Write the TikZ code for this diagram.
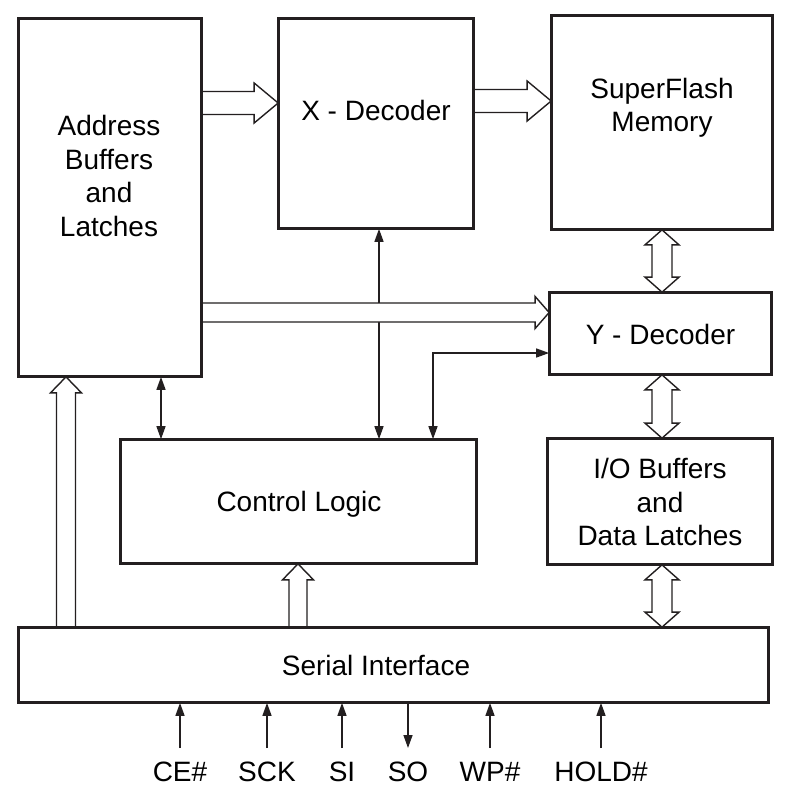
\documentclass[tikz,border=0pt]{standalone}
\usepackage{fontspec}
\setmainfont{Liberation Sans}
\usetikzlibrary{arrows.meta,calc}
\definecolor{lc}{RGB}{35,31,32}
% horizontal hollow arrow: start, tip, shaft half width, head half width, head length
\newcommand\hollowR[5]{\draw[hollow] let \p1=(#1), \p2=(#2) in
  (\x1,\y1+#3pt) -- (\x2-#5pt,\y1+#3pt) -- (\x2-#5pt,\y1+#4pt) -- (\x2,\y1)
  -- (\x2-#5pt,\y1-#4pt) -- (\x2-#5pt,\y1-#3pt) -- (\x1,\y1-#3pt) -- cycle;}
% vertical hollow arrow pointing up: start (lower), tip (upper)
\newcommand\hollowU[5]{\draw[hollow] let \p1=(#1), \p2=(#2) in
  (\x1-#3pt,\y1) -- (\x1-#3pt,\y2-#5pt) -- (\x1-#4pt,\y2-#5pt) -- (\x1,\y2)
  -- (\x1+#4pt,\y2-#5pt) -- (\x1+#3pt,\y2-#5pt) -- (\x1+#3pt,\y1) -- cycle;}
% vertical double hollow arrow: upper tip, lower tip
\newcommand\hollowUD[5]{\draw[hollow] let \p1=(#1), \p2=(#2) in
  (\x1,\y1) -- (\x1+#4pt,\y1-#5pt) -- (\x1+#3pt,\y1-#5pt) -- (\x1+#3pt,\y2+#5pt)
  -- (\x1+#4pt,\y2+#5pt) -- (\x1,\y2) -- (\x1-#4pt,\y2+#5pt) -- (\x1-#3pt,\y2+#5pt)
  -- (\x1-#3pt,\y1-#5pt) -- (\x1-#4pt,\y1-#5pt) -- cycle;}
\begin{document}
\begin{tikzpicture}[x=1pt,y=-1pt,
  box/.style={draw=lc,line width=1.7pt,inner sep=0pt,fill=none},
  lbl/.style={align=center,font=\fontsize{28}{33.5}\selectfont,inner sep=0pt,text=black},
  pinlbl/.style={font=\fontsize{28}{33.5}\selectfont,inner sep=0pt,anchor=base,text=black},
  hollow/.style={draw=lc,line width=1.4pt,fill=white,line join=miter},
  tip/.tip={Triangle[length=13pt,width=9pt]},
  thinarrow/.style={draw=lc,line width=1.4pt,tip-tip},
  pinarrow/.style={draw=lc,line width=1.4pt,-tip}
]
\useasboundingbox (0,0) rectangle (791,807);
\fill[white] (0,0) rectangle (791,807);

% boxes (paths only, for names)
\path node[box,minimum width=182pt,minimum height=357pt] (addr) at (110,197.5) {}
      node[box,minimum width=194pt,minimum height=209pt] (xdec) at (376,123.5) {}
      node[box,minimum width=220pt,minimum height=213pt] (mem) at (662,122.5) {}
      node[box,minimum width=221pt,minimum height=81pt] (ydec) at (660.5,333.5) {}
      node[box,minimum width=355pt,minimum height=123pt] (ctrl) at (298.5,501.5) {}
      node[box,minimum width=224pt,minimum height=125pt] (io) at (660,501.5) {}
      node[box,minimum width=749pt,minimum height=74pt] (serial) at (393.5,665) {};

% thin connectors
\draw[thinarrow] (161,0 |- addr.south) -- (161,0 |- ctrl.north);
\draw[thinarrow] (379,0 |- xdec.south) -- (379,0 |- ctrl.north);
\draw[thinarrow] (433,0 |- ctrl.north) |- (ydec.west |- 0,353);

% hollow arrows
\hollowR{addr.east |- 0,103}{xdec.west |- 0,103}{11.5}{20}{24}
\hollowR{xdec.east |- 0,101}{mem.west |- 0,101}{11.5}{20}{24}
\hollowR{addr.east |- 0,312.5}{ydec.west |- 0,312.5}{9.5}{16}{14}
\hollowU{serial.north -| 66,0}{addr.south -| 66,0}{9.5}{15.5}{16}
\hollowU{serial.north -| 298,0}{ctrl.south -| 298,0}{9}{15.5}{16}
\hollowUD{mem.south -| 662,0}{ydec.north -| 662,0}{10}{17}{15}
\hollowUD{ydec.south -| 662,0}{io.north -| 662,0}{10}{17}{15}
\hollowUD{io.south -| 662,0}{serial.north -| 662,0}{10}{17}{15}

% redraw box outlines on top
\foreach \n in {addr,xdec,mem,ydec,ctrl,io,serial}
  \draw[draw=lc,line width=1.7pt] (\n.north west) rectangle (\n.south east);

% labels
\node[lbl] (addrT) at (109,176) {Address\\Buffers\\and\\Latches};
\node[lbl] (xdecT) at (376,110) {X - Decoder};
\node[lbl] (memT) at (662,108) {SuperFlash\\Memory};
\node[lbl] (ydecT) at (660.5,334) {Y - Decoder};
\node[lbl] (ctrlT) at (299,504) {Control Logic};
\node[lbl] (ioT) at (660,502) {I/O Buffers\\and\\Data Latches};
\node[lbl] (serialT) at (376,665) {Serial Interface};

% pins
\node[pinlbl] (ce) at (180,781) {CE\#};
\node[pinlbl] (sck) at (267,781) {SCK};
\node[pinlbl] (si) at (342,781) {SI};
\node[pinlbl] (so) at (408,781) {SO};
\node[pinlbl] (wp) at (490,781) {WP\#};
\node[pinlbl] (hold) at (601,781) {HOLD\#};
\draw[pinarrow] ($(ce.base)+(0,-33)$) -- (ce.base |- serial.south);
\draw[pinarrow] ($(sck.base)+(0,-33)$) -- (sck.base |- serial.south);
\draw[pinarrow] ($(si.base)+(0,-33)$) -- (si.base |- serial.south);
\draw[pinarrow] (so.base |- serial.south) -- ($(so.base)+(0,-33)$);
\draw[pinarrow] ($(wp.base)+(0,-33)$) -- (wp.base |- serial.south);
\draw[pinarrow] ($(hold.base)+(0,-33)$) -- (hold.base |- serial.south);
\end{tikzpicture}
\end{document}
